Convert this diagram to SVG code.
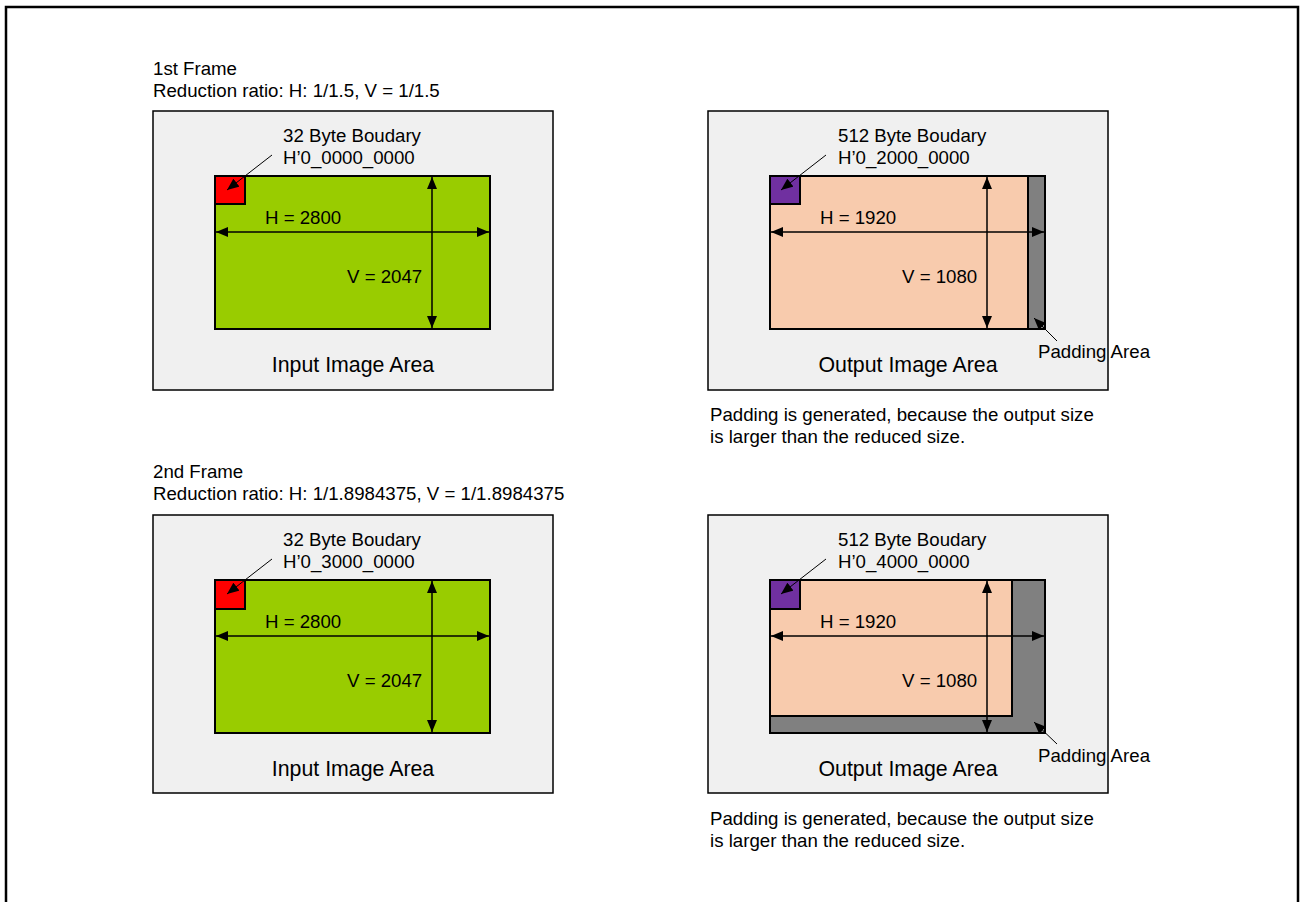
<svg xmlns="http://www.w3.org/2000/svg" width="1301" height="902" viewBox="0 0 1301 902">
<style>
text{font-family:"Liberation Sans",Arial,sans-serif;fill:#000}
.s{font-size:18.67px}
.l{font-size:21.33px}
.panel{fill:#f0f0f0;stroke:#000;stroke-width:1.5}
.in{stroke:#000;stroke-width:2}
.dim{stroke:#000;stroke-width:1.5;fill:none;marker-start:url(#ah);marker-end:url(#ah)}
.lead{stroke:#000;stroke-width:1;fill:none;marker-end:url(#sh)}
</style>
<defs>
<marker id="ah" viewBox="0 0 12 10" refX="12" refY="5" markerWidth="12" markerHeight="10" markerUnits="userSpaceOnUse" orient="auto-start-reverse"><path d="M0,0 L12,5 L0,10 z" fill="#000"/></marker>
<marker id="sh" viewBox="0 0 12 10" refX="12" refY="5" markerWidth="12" markerHeight="10" markerUnits="userSpaceOnUse" orient="auto"><path d="M0,0 L12,5 L0,10 z" fill="#000"/></marker>
</defs>
<rect x="0" y="0" width="1301" height="902" fill="#fff"/>
<rect x="6" y="7" width="1292" height="910" fill="none" stroke="#000" stroke-width="2.5"/>

<g id="title1">
<text class="s" x="153" y="75">1st Frame</text>
<text class="s" x="153" y="97">Reduction ratio: H: 1/1.5, V = 1/1.5</text>
</g>
<g id="title2">
<text class="s" x="153" y="478">2nd Frame</text>
<text class="s" x="153" y="500">Reduction ratio: H: 1/1.8984375, V = 1/1.8984375</text>
</g>

<g id="input1">
<rect class="panel" x="153" y="111" width="400" height="279"/>
<rect class="in" x="215" y="176" width="275" height="153" fill="#99cc00"/>
<rect class="in" x="215" y="176" width="30" height="28" fill="#ff0000" stroke-width="1.5"/>
<text class="s" x="283" y="142">32 Byte Boudary</text>
<text class="s" x="283" y="164">H’0_0000_0000</text>
<text class="s" x="265" y="224">H = 2800</text>
<text class="s" x="347" y="283">V = 2047</text>
<text class="l" x="353" y="372" text-anchor="middle">Input Image Area</text>
</g>

<g id="output1">
<rect class="panel" x="708" y="111" width="400" height="279"/>
<rect class="in" x="770" y="176" width="275" height="153" fill="#808080"/>
<rect class="in" x="770" y="176" width="258" height="153" fill="#f8cbad"/>
<rect class="in" x="770" y="176" width="30" height="28" fill="#7030a0" stroke-width="1.5"/>
<text class="s" x="838" y="142">512 Byte Boudary</text>
<text class="s" x="838" y="164">H’0_2000_0000</text>
<text class="s" x="820" y="224">H = 1920</text>
<text class="s" x="902" y="283">V = 1080</text>
<text class="l" x="908" y="372" text-anchor="middle">Output Image Area</text>
<text class="s" x="1038" y="358">Padding Area</text>
</g>
<g id="note1">
<text class="s" x="710" y="421">Padding is generated, because the output size</text>
<text class="s" x="710" y="443">is larger than the reduced size.</text>
</g>

<g id="input2">
<rect class="panel" x="153" y="515" width="400" height="278"/>
<rect class="in" x="215" y="580" width="275" height="153" fill="#99cc00"/>
<rect class="in" x="215" y="580" width="30" height="29" fill="#ff0000" stroke-width="1.5"/>
<text class="s" x="283" y="546">32 Byte Boudary</text>
<text class="s" x="283" y="568">H’0_3000_0000</text>
<text class="s" x="265" y="628">H = 2800</text>
<text class="s" x="347" y="687">V = 2047</text>
<text class="l" x="353" y="776" text-anchor="middle">Input Image Area</text>
</g>

<g id="output2">
<rect class="panel" x="708" y="515" width="400" height="278"/>
<rect class="in" x="770" y="580" width="275" height="153" fill="#808080"/>
<rect class="in" x="770" y="580" width="242" height="136" fill="#f8cbad"/>
<rect class="in" x="770" y="580" width="30" height="29" fill="#7030a0" stroke-width="1.5"/>
<text class="s" x="838" y="546">512 Byte Boudary</text>
<text class="s" x="838" y="568">H’0_4000_0000</text>
<text class="s" x="820" y="628">H = 1920</text>
<text class="s" x="902" y="687">V = 1080</text>
<text class="l" x="908" y="776" text-anchor="middle">Output Image Area</text>
<text class="s" x="1038" y="762">Padding Area</text>
</g>
<g id="note2">
<text class="s" x="710" y="825">Padding is generated, because the output size</text>
<text class="s" x="710" y="847">is larger than the reduced size.</text>
</g>

<g id="connectors">
<line class="dim" x1="216" y1="232" x2="489" y2="232"/>
<line class="dim" x1="432" y1="177" x2="432" y2="328"/>
<line class="lead" x1="272" y1="155" x2="227" y2="190"/>
<line class="dim" x1="771" y1="232" x2="1044" y2="232"/>
<line class="dim" x1="987" y1="177" x2="987" y2="328"/>
<line class="lead" x1="826" y1="155" x2="781" y2="190"/>
<line class="lead" x1="1057" y1="341" x2="1034" y2="318"/>

<line class="dim" x1="216" y1="636" x2="489" y2="636"/>
<line class="dim" x1="432" y1="581" x2="432" y2="732"/>
<line class="lead" x1="272" y1="559" x2="227" y2="594"/>
<line class="dim" x1="771" y1="636" x2="1044" y2="636"/>
<line class="dim" x1="987" y1="581" x2="987" y2="732"/>
<line class="lead" x1="826" y1="559" x2="781" y2="594"/>
<line class="lead" x1="1057" y1="744" x2="1034" y2="722"/>
</g>
</svg>
